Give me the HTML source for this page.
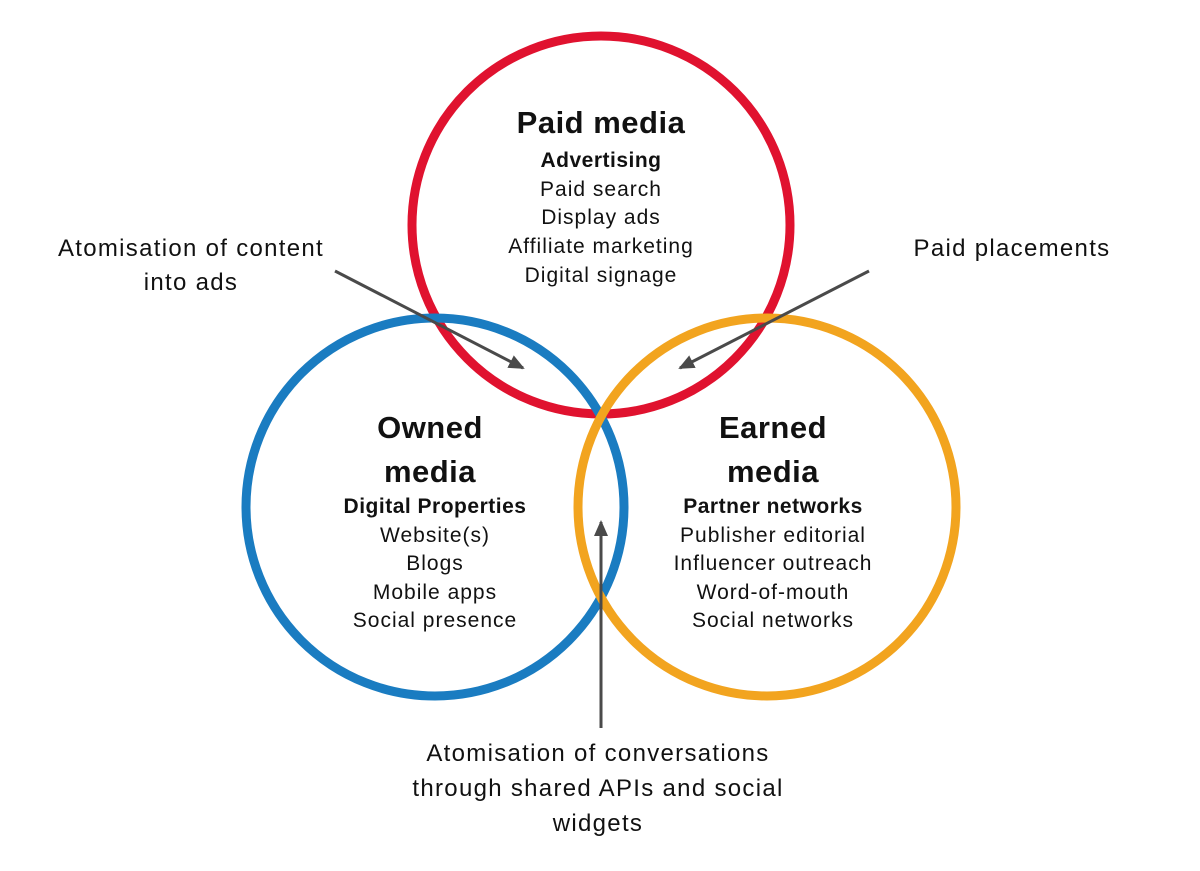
<!DOCTYPE html>
<html><head><meta charset="utf-8"><style>
html,body{margin:0;padding:0;background:#fff;}
svg{display:block;}
text{font-family:"Liberation Sans","DejaVu Sans",sans-serif;fill:#111;}
</style></head><body>
<svg width="1200" height="871" viewBox="0 0 1200 871" xmlns="http://www.w3.org/2000/svg">
<defs>
<marker id="ah" markerWidth="16" markerHeight="14" refX="14" refY="7" orient="auto" markerUnits="userSpaceOnUse">
<path d="M0,0 L16,7 L0,14 z" fill="#4a4a4a"/>
</marker>
</defs>
<circle cx="601" cy="225" r="189" fill="none" stroke="#e0122f" stroke-width="9"/>
<circle cx="435" cy="507" r="189" fill="none" stroke="#1a7cc1" stroke-width="9"/>
<circle cx="767" cy="507" r="189" fill="none" stroke="#f2a41f" stroke-width="9"/>

<line x1="335" y1="271" x2="523" y2="368" stroke="#4a4a4a" stroke-width="3" marker-end="url(#ah)"/>
<line x1="869" y1="271" x2="680" y2="368" stroke="#4a4a4a" stroke-width="3" marker-end="url(#ah)"/>
<line x1="601" y1="728" x2="601" y2="522" stroke="#4a4a4a" stroke-width="3" marker-end="url(#ah)"/>

<g text-anchor="middle" font-size="21" letter-spacing="1">
<text x="601" y="133" font-size="31" font-weight="bold" letter-spacing="0.5">Paid media</text>
<text x="601" y="167" font-weight="bold" letter-spacing="0.5">Advertising</text>
<text x="601" y="196">Paid search</text>
<text x="601" y="224">Display ads</text>
<text x="601" y="253">Affiliate marketing</text>
<text x="601" y="282">Digital signage</text>

<text x="430" y="438" font-size="31" font-weight="bold" letter-spacing="0.5">Owned</text>
<text x="430" y="482" font-size="31" font-weight="bold" letter-spacing="0.5">media</text>
<text x="435" y="513" font-weight="bold" letter-spacing="0.5">Digital Properties</text>
<text x="435" y="542">Website(s)</text>
<text x="435" y="570">Blogs</text>
<text x="435" y="599">Mobile apps</text>
<text x="435" y="627">Social presence</text>

<text x="773" y="438" font-size="31" font-weight="bold" letter-spacing="0.5">Earned</text>
<text x="773" y="482" font-size="31" font-weight="bold" letter-spacing="0.5">media</text>
<text x="773" y="513" font-weight="bold" letter-spacing="0.5">Partner networks</text>
<text x="773" y="542">Publisher editorial</text>
<text x="773" y="570">Influencer outreach</text>
<text x="773" y="599">Word-of-mouth</text>
<text x="773" y="627">Social networks</text>
</g>
<g font-size="24" text-anchor="middle" letter-spacing="1.3">
<text x="191" y="256">Atomisation of content</text>
<text x="191" y="290">into ads</text>
<text x="1012" y="256">Paid placements</text>
<text x="598" y="761">Atomisation of conversations</text>
<text x="598" y="796">through shared APIs and social</text>
<text x="598" y="831">widgets</text>
</g>
</svg>
</body></html>
